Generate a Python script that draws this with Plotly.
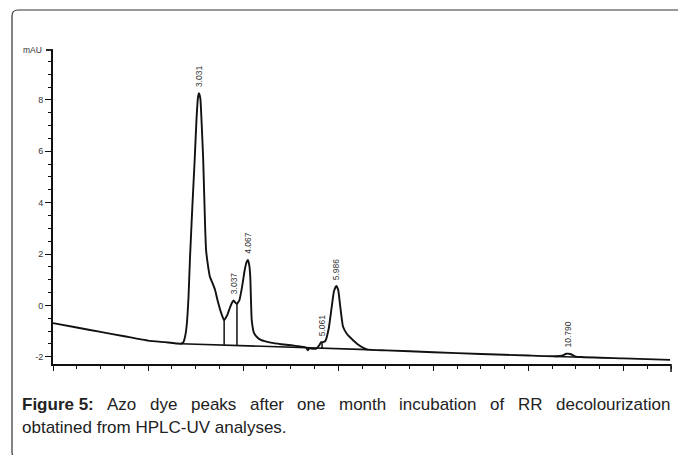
import plotly.graph_objects as go

# ---------------- data ----------------
time_min = [0.00, 0.50, 1.00, 1.50, 2.00, 2.35, 2.69, 2.74, 2.78, 2.81, 2.85, 2.88, 2.93, 2.98,
            3.02, 3.05, 3.07, 3.10, 3.13, 3.16, 3.20, 3.22, 3.26, 3.30, 3.36, 3.41, 3.46, 3.53,
            3.60, 3.66, 3.72, 3.77, 3.80, 3.84, 3.87, 3.92, 3.98, 4.03, 4.07, 4.10, 4.13, 4.15,
            4.18, 4.23, 4.30, 4.37, 4.58, 4.80, 5.01, 5.20, 5.32, 5.36, 5.39, 5.43, 5.54, 5.60,
            5.64, 5.68, 5.73, 5.80, 5.86, 5.91, 5.96, 6.00, 6.04, 6.10, 6.18, 6.27, 6.40, 6.55,
            6.62, 7.00, 8.00, 9.00, 10.00, 10.60, 10.70, 10.80, 10.88, 10.98, 11.10, 12.00, 12.98]
signal_mAU = [-0.69, -0.86, -1.03, -1.20, -1.37, -1.43, -1.49, -1.44, -1.20, -0.82, 0.30, 1.77, 3.80, 5.66,
              7.30, 8.10, 8.26, 8.05, 6.96, 5.66, 3.07, 2.16, 1.55, 1.12, 0.85, 0.60, 0.21, -0.25,
              -0.58, -0.40, -0.10, 0.12, 0.19, 0.10, 0.06, 0.20, 0.75, 1.35, 1.68, 1.77, 1.55, 1.12,
              -0.56, -1.08, -1.25, -1.34, -1.45, -1.51, -1.55, -1.60, -1.64, -1.75, -1.66, -1.68, -1.68, -1.55,
              -1.43, -1.43, -1.38, -0.90, -0.10, 0.55, 0.76, 0.60, 0.00, -0.82, -1.10, -1.28, -1.50, -1.67,
              -1.72, -1.75, -1.82, -1.89, -1.95, -1.98, -1.96, -1.88, -1.89, -1.98, -2.01, -2.06, -2.12]

# integration baselines
base1_t = [2.69, 6.62]
base1_v = [-1.49, -1.72]
base2_t = [10.55, 11.15]
base2_v = [-1.99, -2.02]

# drop lines (time, top, bottom)
drop_t = [3.60, 3.87, 5.66]
drop_top = [-0.58, 0.06, -1.43]
drop_bottom = [-1.543, -1.559, -1.664]

# peak labels
peak_labels = ["3.031", "3.037", "4.067", "5.061", "5.986", "10.790"]
peak_t = [3.07, 3.80, 4.10, 5.66, 5.96, 10.83]
peak_v = [8.26, 0.19, 1.77, -1.43, 0.76, -1.88]

y_tickvals = [-2, 0, 2, 4, 6, 8]
y_ticktext = ["-2", "0", "2", "4", "6", "8"]

caption_line1_words = ["Azo", "dye", "peaks", "after", "one", "month", "incubation",
                       "of", "RR", "decolourization"]
caption_line1_x = [105.2, 147.9, 188.7, 247.5, 294.9, 336.7, 397.3, 488.2, 515.8, 553.7]
caption_line2 = "obtatined from HPLC-UV analyses."

# ---------------- layout geometry ----------------
W, H = 678, 455
L, R, T, B = 53, 7, 50, 91
PW = W - L - R
PH = H - T - B


def px(xp):
    return (xp - L) / PW


def py(yp):
    return (H - B - yp) / PH


fig = go.Figure()

fig.add_trace(go.Scatter(x=time_min, y=signal_mAU, mode="lines",
                         line=dict(color="#111111", width=1.9, shape="spline", smoothing=0.4),
                         hoverinfo="skip", showlegend=False))
fig.add_trace(go.Scatter(x=base1_t, y=base1_v, mode="lines",
                         line=dict(color="#111111", width=1.6), showlegend=False, hoverinfo="skip"))
fig.add_trace(go.Scatter(x=base2_t, y=base2_v, mode="lines",
                         line=dict(color="#111111", width=1.4), showlegend=False, hoverinfo="skip"))
for t, a, b in zip(drop_t, drop_top, drop_bottom):
    fig.add_trace(go.Scatter(x=[t, t], y=[a, b], mode="lines",
                             line=dict(color="#111111", width=1.5), showlegend=False, hoverinfo="skip"))

for lab, t, v in zip(peak_labels, peak_t, peak_v):
    fig.add_annotation(x=t, y=v, text=lab, textangle=-90, showarrow=False,
                       xanchor="center", yanchor="bottom", yshift=4,
                       font=dict(family="Liberation Sans, Arial", size=8.5, color="#333333"))

# mAU label and top tick
fig.add_annotation(xref="paper", yref="paper", x=px(44), y=py(50), text="mAU", showarrow=False,
                   xanchor="right", yanchor="middle",
                   font=dict(family="Liberation Sans, Arial", size=8.5, color="#333333"))
fig.add_shape(type="line", xref="paper", yref="paper", x0=px(46), x1=px(53), y0=py(50), y1=py(50),
              line=dict(color="#111111", width=1.8))
# right-end tick of x axis
fig.add_shape(type="line", xref="paper", yref="paper", x0=1, x1=1, y0=0, y1=py(372),
              line=dict(color="#111111", width=1.5))

# border box with rounded corner
r = 6
path = (f"M {px(700)},{py(10)} L {px(12 + r)},{py(10)} "
        f"Q {px(12)},{py(10)} {px(12)},{py(10 + r)} "
        f"L {px(12)},{py(458 - r)} Q {px(12)},{py(458)} {px(12 + r)},{py(458)} "
        f"L {px(700)},{py(458)}")
fig.add_shape(type="path", xref="paper", yref="paper", path=path,
              line=dict(color="#333333", width=1.2))

# caption
cap_font = dict(family="Liberation Sans, Arial", size=17, color="#222222")
fig.add_annotation(xref="paper", yref="paper", x=px(20), y=py(404), text="<b>Figure 5:</b>",
                   showarrow=False, xanchor="left", yanchor="middle", font=cap_font)
for w, xw in zip(caption_line1_words, caption_line1_x):
    fig.add_annotation(xref="paper", yref="paper", x=px(xw), y=py(404), text=w,
                       showarrow=False, xanchor="left", yanchor="middle", font=cap_font)
fig.add_annotation(xref="paper", yref="paper", x=px(20), y=py(427), text=caption_line2,
                   showarrow=False, xanchor="left", yanchor="middle", font=cap_font)

fig.update_layout(
    width=W, height=H,
    margin=dict(l=L, r=R, t=T, b=B),
    paper_bgcolor="white", plot_bgcolor="white",
    showlegend=False,
    xaxis=dict(range=[0, 13], showgrid=False, zeroline=False, showline=True,
               linecolor="#111111", linewidth=2, ticks="outside", dtick=2, tick0=0,
               ticklen=5, tickwidth=1.3, tickcolor="#111111", showticklabels=False,
               minor=dict(dtick=0.5, ticks="outside", ticklen=3, tickwidth=1.2, tickcolor="#111111")),
    yaxis=dict(range=[-2.28, 9.94], showgrid=False, zeroline=False, showline=True,
               linecolor="#111111", linewidth=2, ticks="outside", tickvals=y_tickvals,
               ticktext=y_ticktext, ticklen=6, tickwidth=1.3, tickcolor="#111111",
               tickfont=dict(family="Liberation Sans, Arial", size=9, color="#333333"),
               minor=dict(dtick=0.5, ticks="outside", ticklen=3, tickwidth=1.2, tickcolor="#111111")),
)

fig.write_html("out.html")
